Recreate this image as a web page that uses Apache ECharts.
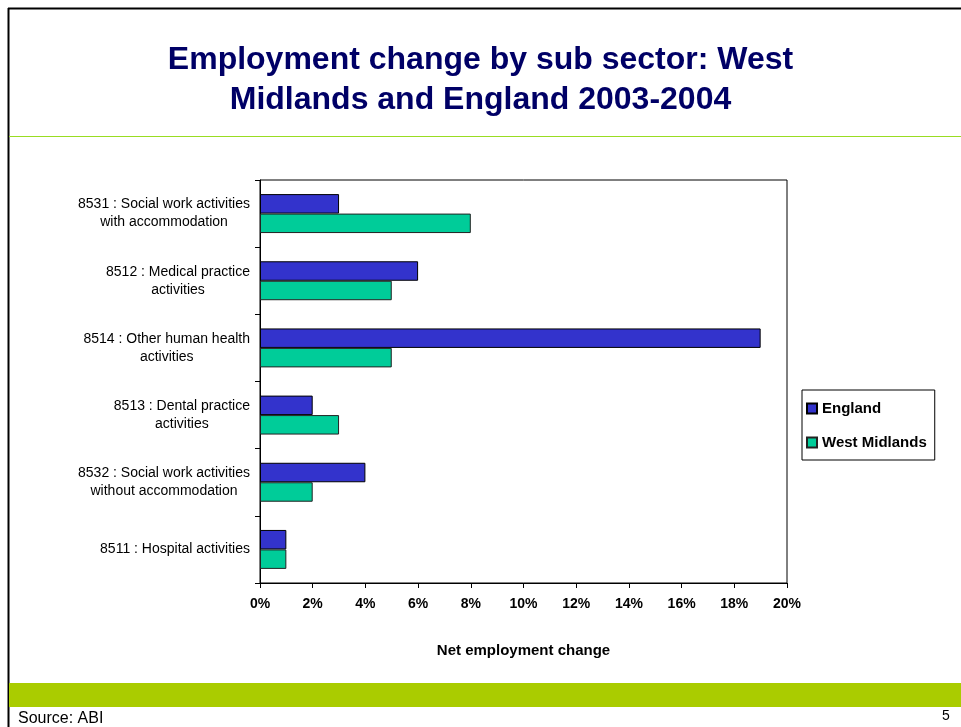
<!DOCTYPE html>
<html>
<head>
<meta charset="utf-8">
<script src="https://cdn.jsdelivr.net/npm/echarts@6/dist/echarts.min.js"></script>
<style>
  html, body { margin: 0; padding: 0; background: #fff; }
  #chart { width: 961px; height: 727px; }
</style>
</head>
<body>
<div id="chart"></div>
<script>
// Sub-sectors, listed top to bottom as they appear on the chart
const categories = [
  '8531 : Social work activities\nwith accommodation',
  '8512 : Medical practice\nactivities',
  '8514 : Other human health\nactivities',
  '8513 : Dental practice\nactivities',
  '8532 : Social work activities\nwithout accommodation',
  '8511 : Hospital activities'
];
// Net employment change, per cent
const englandValues = [3, 6, 19, 2, 4, 1];
const westMidlandsValues = [8, 5, 5, 3, 2, 1];
const seriesNames = ['England', 'West Midlands'];
const xTicks = { min: 0, max: 20, interval: 2 };

const FONT = 'Arial, "Liberation Sans", sans-serif';

const chart = echarts.init(document.getElementById('chart'), null, { renderer: 'canvas' });

chart.setOption({
  animation: false,
  backgroundColor: '#ffffff',
  title: {
    text: 'Employment change by sub sector: West\nMidlands and England 2003-2004',
    left: 'center',
    top: 35,
    textStyle: {
      fontFamily: FONT,
      fontWeight: 'bold',
      fontSize: 32,
      lineHeight: 40,
      color: '#000066'
    }
  },
  legend: {
    orient: 'vertical',
    left: 802,
    top: 390,
    padding: [11, 8, 10, 4],
    itemGap: 19,
    itemWidth: 10,
    itemHeight: 10,
    icon: 'rect',
    borderColor: '#000',
    borderWidth: 1,
    textStyle: {
      fontFamily: FONT,
      fontWeight: 'bold',
      fontSize: 15,
      color: '#000'
    },
    data: seriesNames
  },
  grid: {
    left: 260,
    right: 174,
    top: 180,
    bottom: 144,
    show: true,
    borderColor: '#000',
    borderWidth: 1,
    containLabel: false
  },
  xAxis: {
    type: 'value',
    min: xTicks.min,
    max: xTicks.max,
    interval: xTicks.interval,
    name: 'Net employment change',
    nameLocation: 'middle',
    nameGap: 60,
    nameTextStyle: {
      fontFamily: FONT,
      fontWeight: 'bold',
      fontSize: 15,
      color: '#000'
    },
    axisLine: { show: true, lineStyle: { color: '#000', width: 1 } },
    axisTick: { show: true, length: 5, inside: false, lineStyle: { color: '#000' } },
    axisLabel: {
      formatter: '{value}%',
      fontFamily: FONT,
      fontWeight: 'bold',
      fontSize: 14,
      color: '#000',
      margin: 14
    },
    splitLine: { show: false }
  },
  yAxis: {
    type: 'category',
    inverse: true,
    data: categories,
    axisLine: { show: true, lineStyle: { color: '#000', width: 1 } },
    axisTick: { show: true, length: 5, lineStyle: { color: '#000' } },
    axisLabel: {
      // each line centred within a block that is right-aligned to the axis
      formatter: function (v) {
        return v.split('\n').map(function (s) { return '{c|' + s + '}'; }).join('\n');
      },
      align: 'right',
      margin: 10,
      rich: {
        c: {
          fontFamily: FONT,
          fontSize: 14,
          lineHeight: 18,
          color: '#000',
          align: 'center'
        }
      }
    },
    splitLine: { show: false }
  },
  series: [
    {
      name: seriesNames[0],
      type: 'bar',
      data: englandValues,
      barGap: '0%',
      barCategoryGap: '42%',
      itemStyle: { color: '#3333CC', borderColor: '#000', borderWidth: 1 }
    },
    {
      name: seriesNames[1],
      type: 'bar',
      data: westMidlandsValues,
      itemStyle: { color: '#00CC99', borderColor: '#222', borderWidth: 1 }
    }
  ],
  graphic: [
    // slide frame
    { type: 'line', shape: { x1: 8.5, y1: 8, x2: 8.5, y2: 727 }, style: { stroke: '#000', lineWidth: 2 } },
    { type: 'line', shape: { x1: 8, y1: 8.5, x2: 961, y2: 8.5 }, style: { stroke: '#000', lineWidth: 2 } },
    // divider under the heading
    { type: 'line', shape: { x1: 9, y1: 136.5, x2: 961, y2: 136.5 }, style: { stroke: '#99DD22', lineWidth: 1 } },
    // footer band
    { type: 'rect', shape: { x: 9, y: 683, width: 952, height: 24 }, style: { fill: '#AACC00' } },
    {
      type: 'text', left: 18, top: 711,
      style: { text: 'Source: ABI', fontFamily: FONT, fontSize: 16, fill: '#000' }
    },
    {
      type: 'text', left: 942, top: 709,
      style: { text: '5', fontFamily: FONT, fontSize: 14, fill: '#000' }
    }
  ]
});
</script>
</body>
</html>
